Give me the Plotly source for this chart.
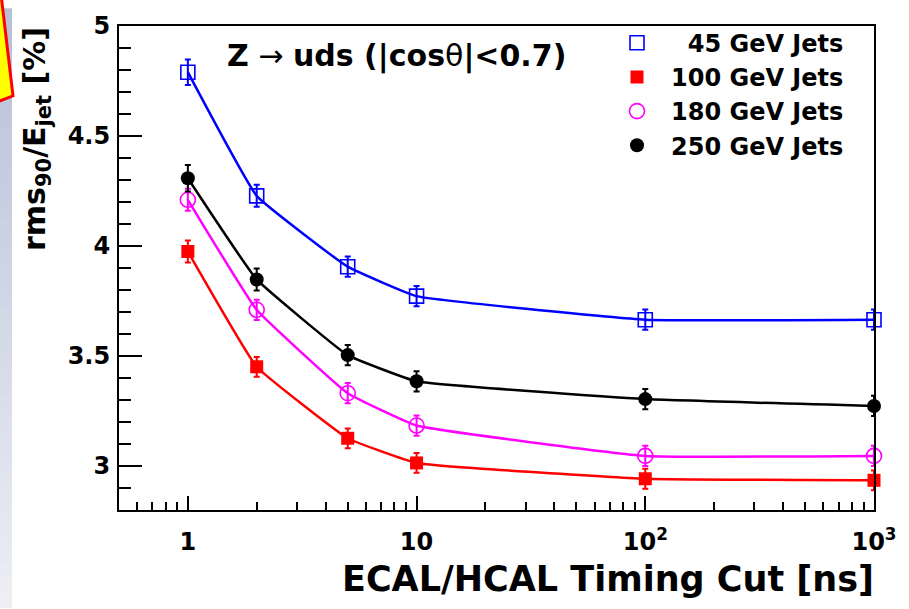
import plotly.graph_objects as go

# Timing cut values [ns] and jet energy resolution rms90/Ejet [%]
timing_cut = [1, 2, 5, 10, 100, 1000]

res_45 = [4.79, 4.228, 3.906, 3.772, 3.665, 3.665]
res_100 = [3.975, 3.451, 3.126, 3.014, 2.942, 2.935]
res_180 = [4.21, 3.71, 3.331, 3.184, 3.046, 3.046]
res_250 = [4.308, 3.848, 3.504, 3.385, 3.304, 3.273]

err_45 = [0.058, 0.05, 0.046, 0.046, 0.046, 0.046]
err_100 = [0.05, 0.045, 0.045, 0.045, 0.045, 0.045]
err_180 = [0.05, 0.046, 0.046, 0.046, 0.046, 0.046]
err_250 = [0.06, 0.05, 0.046, 0.046, 0.046, 0.046]

series_names = ["45 GeV Jets", "100 GeV Jets", "180 GeV Jets", "250 GeV Jets"]
legend_labels = ["&nbsp;&nbsp;45 GeV Jets", "100 GeV Jets", "180 GeV Jets", "250 GeV Jets"]

x_tick_vals = [1, 10, 100, 1000]
x_tick_text = ["1", "10", "10<sup>2</sup>", "10<sup>3</sup>"]
x_minor_vals = [0.6, 0.7, 0.8, 0.9, 2, 3, 4, 5, 6, 7, 8, 9,
                20, 30, 40, 50, 60, 70, 80, 90,
                200, 300, 400, 500, 600, 700, 800, 900]

# Figure geometry (pixels)
W, H = 909, 609
ML, MR, MT, MB = 119, 35, 18, 99
PW, PH = W - ML - MR, H - MT - MB


def px(x):
    return (x - ML) / PW


def py(y):
    return 1 - (y - MT) / PH


FONT = "DejaVu Sans"

styles = [
    dict(color="#0000ff", symbol="square-open", size=14, lw=1.6),
    dict(color="#ff0000", symbol="square", size=13, lw=0),
    dict(color="#ff00ff", symbol="circle-open", size=15, lw=1.6),
    dict(color="#000000", symbol="circle", size=14, lw=0),
]

fig = go.Figure()
# smooth connecting curves (kept out of the legend)
for vals, st in zip([res_45, res_100, res_180, res_250], styles):
    fig.add_trace(
        go.Scatter(
            x=timing_cut,
            y=vals,
            mode="lines",
            showlegend=False,
            hoverinfo="skip",
            line=dict(color=st["color"], width=2.5, shape="spline", smoothing=0.3),
            cliponaxis=False,
        )
    )
# data points with error bars
for vals, errs, label, st in zip(
    [res_45, res_100, res_180, res_250],
    [err_45, err_100, err_180, err_250],
    legend_labels,
    styles,
):
    fig.add_trace(
        go.Scatter(
            x=timing_cut,
            y=vals,
            mode="markers",
            name=label,
            marker=dict(
                color=st["color"],
                symbol=st["symbol"],
                size=st["size"],
                line=dict(color=st["color"], width=st["lw"]),
            ),
            error_y=dict(
                type="data",
                array=errs,
                visible=True,
                color=st["color"],
                thickness=2,
                width=3,
            ),
            cliponaxis=False,
        )
    )

# Left-edge gradient strip and yellow tag
shapes = []
n_bands = 40
top_rgb = (184, 192, 216)
bot_rgb = (236, 238, 244)
for i in range(n_bands):
    t = i / (n_bands - 1)
    c = tuple(round(a + (b - a) * t) for a, b in zip(top_rgb, bot_rgb))
    y0 = H * i / n_bands
    y1 = H * (i + 1) / n_bands + 0.5
    shapes.append(
        dict(
            type="rect", xref="paper", yref="paper",
            x0=px(0), x1=px(12), y0=py(y1), y1=py(y0),
            fillcolor="rgb(%d,%d,%d)" % c, line=dict(width=0), layer="below",
        )
    )
tag_pts = [(-5, -10), (1.5, -10), (13, 89), (-5, 96)]
path = "M " + " L ".join("%f,%f" % (px(a), py(b)) for a, b in tag_pts) + " Z"
shapes.append(
    dict(type="path", xref="paper", yref="paper", path=path,
         fillcolor="#ffff00", line=dict(color="#ff0000", width=3))
)

fig.update_layout(
    width=W,
    height=H,
    margin=dict(l=ML, r=MR, t=MT, b=MB, pad=0),
    paper_bgcolor="white",
    plot_bgcolor="white",
    font=dict(family=FONT, color="black"),
    showlegend=True,
    legend=dict(
        x=px(603), y=py(12.5), xanchor="left", yanchor="top",
        bgcolor="rgba(0,0,0,0)", borderwidth=0,
        font=dict(family=FONT, size=24, weight="bold", color="black"),
        itemwidth=58, tracegroupgap=0,
    ),
    shapes=shapes,
    xaxis=dict(
        type="log",
        range=[-0.30103, 3.0],
        tickvals=x_tick_vals,
        ticktext=x_tick_text,
        ticks="inside",
        ticklen=14,
        tickwidth=1.5,
        tickcolor="black",
        tickfont=dict(family=FONT, size=24, weight="bold"),
        ticklabelstandoff=9,
        minor=dict(tickvals=x_minor_vals, ticks="inside", ticklen=8,
                   tickwidth=1.5, tickcolor="black", showgrid=False),
        showline=True, linecolor="black", linewidth=2, mirror=True,
        showgrid=False, zeroline=False,
    ),
    yaxis=dict(
        range=[2.8, 5.0],
        dtick=0.5,
        tick0=3,
        ticks="inside",
        ticklen=23,
        tickwidth=1.5,
        tickcolor="black",
        tickfont=dict(family=FONT, size=24, weight="bold"),
        ticklabelstandoff=2,
        minor=dict(dtick=0.1, ticks="inside", ticklen=12,
                   tickwidth=1.5, tickcolor="black", showgrid=False),
        showline=True, linecolor="black", linewidth=2, mirror=True,
        showgrid=False, zeroline=False,
    ),
    annotations=[
        dict(
            text="<b>ECAL/HCAL Timing Cut [ns]</b>",
            xref="paper", yref="paper", x=px(876), y=py(580),
            xanchor="right", yanchor="middle", showarrow=False,
            font=dict(family=FONT, size=35, color="black"),
        ),
        dict(
            text="<b>rms<sub>90</sub>/E<sub>jet</sub> [%]</b>",
            xref="paper", yref="paper", x=px(36), y=py(17),
            xanchor="center", yanchor="top", textangle=-90, showarrow=False,
            font=dict(family=FONT, size=30, color="black"),
        ),
        dict(
            text="<b>Z</b> → <b>uds (|cos</b>θ<b>|&lt;0.7)</b>",
            xref="paper", yref="paper", x=px(225), y=py(49),
            xanchor="left", yanchor="middle", showarrow=False,
            font=dict(family=FONT, size=30, color="black"),
        ),
    ],
)

fig.write_html("out.html")
